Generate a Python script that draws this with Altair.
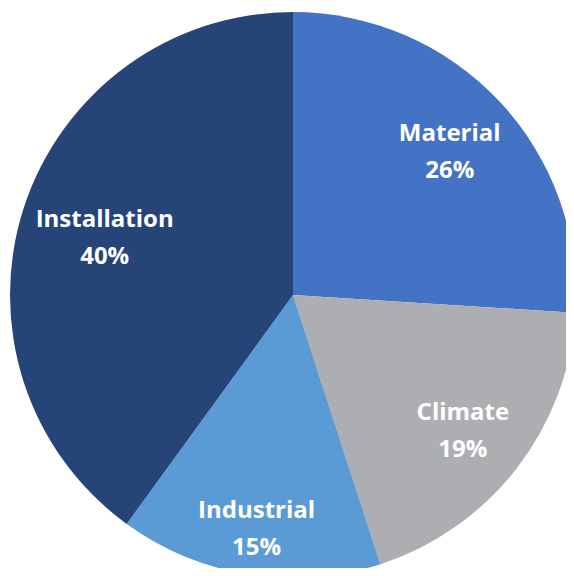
import altair as alt
import pandas as pd
import math

categories = ["Material", "Climate", "Industrial", "Installation"]
shares = [26, 19, 15, 40]
colors = ["#4472C4", "#ADAEB1", "#5B9BD5", "#264478"]

df = pd.DataFrame({"category": categories, "share": shares, "idx": list(range(len(categories)))})
df["label"] = [[c, f"{v}%"] for c, v in zip(categories, shares)]

CX, CY, R = 285, 287, 283
theta_scale = alt.Scale(domain=[0, 100], range=[0, 2 * math.pi])

pie = alt.Chart(df).mark_arc(outerRadius=R, strokeWidth=0).encode(
    theta=alt.Theta("share:Q", stack=True, scale=theta_scale),
    order=alt.Order("idx:Q"),
    x=alt.value(CX), y=alt.value(CY),
    color=alt.Color("category:N", scale=alt.Scale(domain=categories, range=colors), legend=None),
)

lab_base = alt.Chart(df).transform_window(
    cum="sum(share)", sort=[alt.SortField("idx")]
).transform_calculate(mid="datum.cum - datum.share / 2")

def labels(cats, r):
    return lab_base.transform_filter(
        alt.FieldOneOfPredicate(field="category", oneOf=cats)
    ).mark_text(
        radius=r, font="Open Sans", fontWeight="bold", fontSize=24, color="white",
        lineHeight=37, baseline="middle", align="center", dy=-14,
    ).encode(
        theta=alt.Theta("mid:Q", scale=theta_scale),
        x=alt.value(CX), y=alt.value(CY), text="label",
    )

chart = alt.layer(
    pie,
    labels(["Material", "Climate"], 215),
    labels(["Industrial"], 233),
    labels(["Installation"], 198),
).properties(
    width=558, height=560, padding=0, autosize=alt.AutoSizeParams(type="none")
).configure_view(stroke=None)

chart.save("out.html", embed_options={"renderer": "svg", "actions": False})
